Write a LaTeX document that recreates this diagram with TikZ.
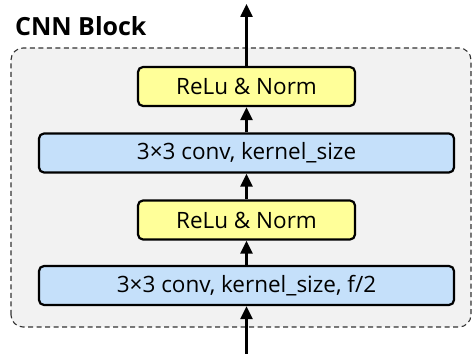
\documentclass[tikz,border=0pt]{standalone}
\usepackage{fontspec}
\setmainfont{Open Sans}
\usetikzlibrary{arrows.meta}
\definecolor{blockbg}{HTML}{F2F2F2}
\definecolor{actfill}{HTML}{FFFF99}
\definecolor{convfill}{HTML}{C5E0FA}
\begin{document}
\begin{tikzpicture}[x=1pt,y=1pt,
  layerbox/.style={draw=black, line width=2.2pt, rounded corners=5pt,
    minimum height=39pt, inner sep=0pt, font=\fontsize{22.5}{26}\selectfont},
  actbox/.style={layerbox, fill=actfill, minimum width=217pt},
  convbox/.style={layerbox, fill=convfill, minimum width=415pt},
  flow/.style={line width=2.5pt, -{Triangle[width=12pt,length=13pt]}}]
\useasboundingbox (0,0) rectangle (475,354);
% dashed container of the block
\draw[draw=black!80, fill=blockbg, line width=1.1pt, dash pattern=on 5pt off 3.5pt, rounded corners=12pt]
  (11,27) rectangle (471,306);
\node[anchor=base west, inner sep=0pt, font=\fontsize{25}{28}\selectfont\bfseries] (title) at (15,318) {CNN Block};
% layers
\node[convbox] (conv1) at (246.5,68.5) {3×3 conv, kernel\_size, f/2};
\node[actbox]  (act1)  at (246.5,134)  {ReLu \& Norm};
\node[convbox] (conv2) at (246.5,201)  {3×3 conv, kernel\_size};
\node[actbox]  (act2)  at (246.5,267.5) {ReLu \& Norm};
\coordinate (in)  at (246.5,0);
\coordinate (out) at (246.5,350);
% data flow
\draw[flow] (in) -- (conv1.south);
\draw[flow] (conv1.north) -- (act1.south);
\draw[flow] (act1.north) -- (conv2.south);
\draw[flow] (conv2.north) -- (act2.south);
\draw[flow] (act2.north) -- (out);
\end{tikzpicture}
\end{document}
